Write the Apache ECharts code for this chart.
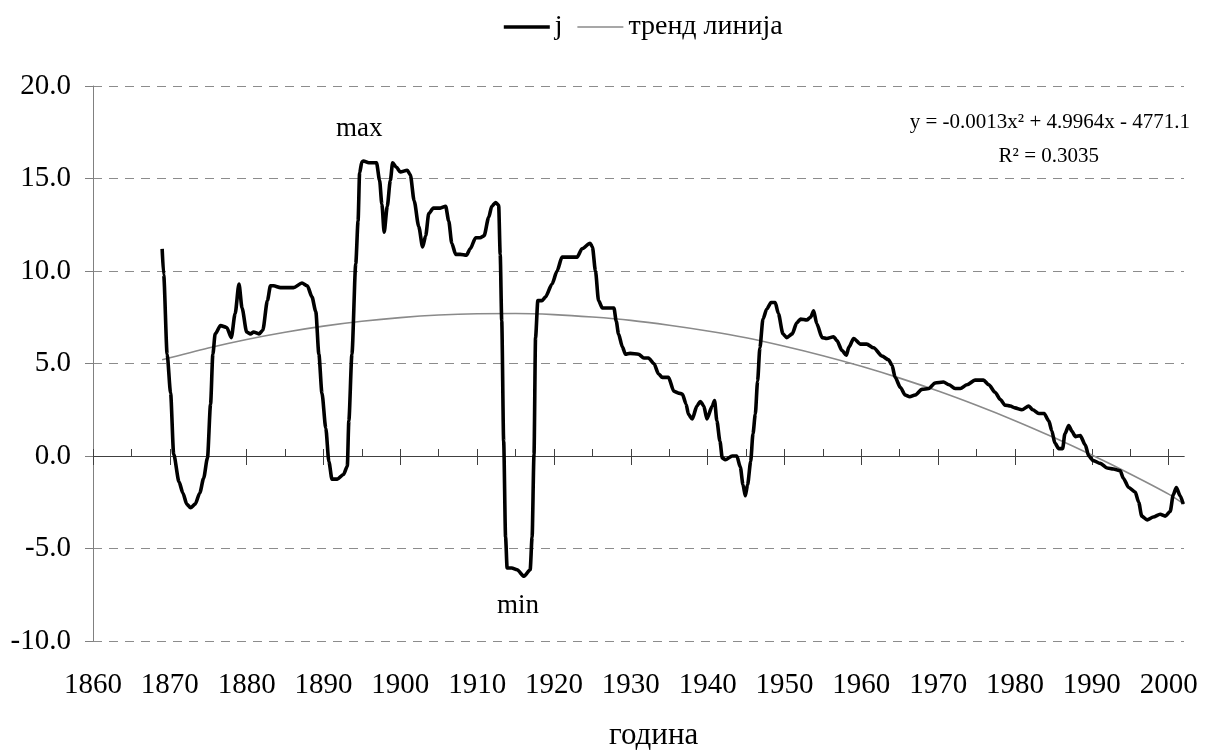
<!DOCTYPE html>
<html>
<head>
<meta charset="utf-8">
<script src="https://cdn.jsdelivr.net/npm/echarts@6/dist/echarts.min.js"></script>
<style>
html,body{margin:0;padding:0;background:#fff;}
#chart{width:1206px;height:751px;}
</style>
</head>
<body>
<div id="chart"></div>
<script>
// ---- data ----
const xTickLabels = [1860, 1870, 1880, 1890, 1900, 1910, 1920, 1930, 1940, 1950, 1960, 1970, 1980, 1990, 2000];
const yTickLabels = [-10, -5, 0, 5, 10, 15, 20];

const jYears = [
  1869.0, 1869.2, 1869.65, 1870.1, 1870.5, 1871.2, 1871.7, 1872.2, 1872.7, 1873.3, 1873.9, 1874.4, 1874.9,
  1875.3, 1875.6, 1875.9, 1876.6, 1877.4, 1878.0, 1878.5, 1879.0, 1879.4, 1880.0, 1880.5, 1880.9, 1881.6,
  1882.1, 1882.7, 1883.1, 1883.5, 1884.4, 1886.1, 1887.2, 1887.9, 1888.5, 1889.0, 1889.4, 1889.8, 1890.3,
  1890.7, 1891.1, 1891.8, 1892.6, 1893.1, 1893.3, 1893.7, 1894.2, 1894.5, 1894.7, 1895.0, 1895.2, 1895.9,
  1896.9, 1897.3, 1897.6, 1897.9, 1898.3, 1898.7, 1899.0, 1899.5, 1900.0, 1900.9, 1901.3, 1901.8, 1902.4,
  1902.9, 1903.3, 1903.7, 1904.3, 1905.2, 1905.9, 1906.3, 1906.7, 1907.2, 1907.8, 1908.6, 1909.1, 1909.8,
  1910.4, 1910.9, 1911.5, 1911.9, 1912.4, 1912.8, 1913.0, 1913.2, 1913.45, 1913.7, 1913.9, 1914.5, 1915.2,
  1916.1, 1916.9, 1917.15, 1917.4, 1917.6, 1917.9, 1918.45, 1918.9, 1919.75, 1920.4, 1921.05, 1921.7,
  1923.0, 1923.65, 1924.7, 1925.0, 1925.4, 1925.8, 1926.3, 1927.3, 1927.8, 1928.1, 1928.4, 1928.9, 1929.3,
  1929.9, 1931.0, 1931.7, 1932.3, 1933.0, 1933.6, 1934.1, 1934.9, 1935.6, 1936.2, 1936.7, 1937.2, 1937.5,
  1938.0, 1938.6, 1939.05, 1939.5, 1939.9, 1940.6, 1940.9, 1941.2, 1941.6, 1941.9, 1942.3, 1943.2, 1943.8,
  1944.25, 1944.6, 1944.9, 1945.2, 1945.6, 1945.9, 1946.2, 1946.5, 1946.8, 1947.2, 1947.7, 1948.25, 1948.8,
  1949.2, 1949.8, 1950.3, 1951.0, 1951.6, 1952.1, 1952.9, 1953.4, 1953.8, 1954.2, 1954.9, 1955.5, 1956.4,
  1956.8, 1957.5, 1958.05, 1958.4, 1959.0, 1959.9, 1960.7, 1961.6, 1962.7, 1963.55, 1964.0, 1964.4, 1965.1,
  1965.7, 1966.3, 1967.0, 1967.9, 1968.8, 1969.6, 1970.7, 1971.4, 1972.2, 1972.9, 1973.75, 1974.8, 1975.9,
  1976.6, 1977.4, 1978.1, 1978.7, 1979.4, 1980.0, 1980.9, 1981.8, 1982.3, 1983.1, 1983.8, 1984.4, 1984.8,
  1985.2, 1985.7, 1986.2, 1986.5, 1987.0, 1987.4, 1987.85, 1988.5, 1989.15, 1989.6, 1990.2, 1991.1, 1992.0,
  1992.8, 1993.7, 1994.1, 1994.8, 1995.65, 1996.1, 1996.5, 1997.2, 1998.0, 1998.9, 1999.55, 2000.2, 2000.6,
  2001.0, 2001.5, 2001.9
];
const jValues = [
  11.2, 9.8, 5.5, 3.4, 0.1, -1.4, -2.0, -2.6, -2.8, -2.6, -2.0, -1.2, -0.1,
  2.8, 5.5, 6.6, 7.05, 6.95, 6.4, 7.7, 9.3, 8.0, 6.7, 6.6, 6.7, 6.6,
  6.8, 8.4, 9.2, 9.2, 9.1, 9.1, 9.35, 9.2, 8.6, 7.8, 5.5, 3.4, 1.5,
  -0.3, -1.25, -1.25, -1.0, -0.55, 1.9, 5.5, 10.4, 12.7, 15.3, 15.9, 15.95, 15.85,
  15.85, 14.9, 13.6, 12.1, 13.5, 14.9, 15.85, 15.6, 15.35, 15.45, 15.2, 13.8, 12.4,
  11.3, 11.9, 13.1, 13.4, 13.4, 13.5, 12.7, 11.5, 10.9, 10.9, 10.85, 11.2, 11.8,
  11.8, 11.9, 12.9, 13.5, 13.7, 13.55, 10.9, 7.3, 0.8, -4.4, -6.05, -6.05, -6.15,
  -6.5, -6.15, -4.4, 0.1, 6.4, 8.4, 8.4, 8.6, 9.3, 10.0, 10.75, 10.75,
  10.75, 11.2, 11.5, 11.3, 10.0, 8.4, 8.0, 8.0, 8.0, 7.3, 6.6, 5.9, 5.5,
  5.55, 5.5, 5.3, 5.3, 5.0, 4.45, 4.25, 4.25, 3.5, 3.4, 3.35, 2.8, 2.25,
  2.0, 2.7, 2.95, 2.7, 2.0, 2.7, 3.0, 1.9, 0.8, -0.1, -0.2, 0.0, 0.0,
  -0.6, -1.55, -2.15, -1.55, -0.3, 1.2, 2.25, 4.05, 5.85, 7.4, 7.95, 8.3, 8.3,
  7.7, 6.6, 6.4, 6.6, 7.2, 7.4, 7.35, 7.5, 7.85, 7.15, 6.4, 6.35, 6.45,
  6.25, 5.7, 5.45, 5.9, 6.35, 6.05, 6.05, 5.85, 5.4, 5.2, 4.9, 4.25, 3.7,
  3.3, 3.2, 3.3, 3.6, 3.65, 3.95, 4.0, 3.85, 3.65, 3.65, 3.85, 4.1, 4.1,
  3.85, 3.45, 3.05, 2.75, 2.7, 2.6, 2.5, 2.7, 2.5, 2.3, 2.3, 1.9, 1.35,
  0.7, 0.4, 0.4, 1.2, 1.65, 1.35, 1.05, 1.1, 0.6, 0.0, -0.25, -0.4, -0.65,
  -0.7, -0.8, -1.2, -1.7, -1.95, -2.5, -3.25, -3.45, -3.3, -3.15, -3.25, -3.0, -2.1,
  -1.7, -2.15, -2.6
];

const trendYears = [1869, 1875, 1880, 1885, 1890, 1895, 1900, 1905, 1910, 1915, 1920, 1925, 1930, 1935,
  1940, 1945, 1950, 1955, 1960, 1965, 1970, 1975, 1980, 1985, 1990, 1995, 2000, 2002];
const trendValues = [5.2, 5.84, 6.3, 6.69, 7.02, 7.28, 7.48, 7.62, 7.69, 7.7, 7.64, 7.51, 7.33, 7.07,
  6.76, 6.39, 5.93, 5.42, 4.85, 4.21, 3.51, 2.74, 1.91, 1.01, 0.05, -0.97, -2.06, -2.6];

const seriesNames = ['j', 'тренд линија'];
const equationText = 'y = -0.0013x² + 4.9964x - 4771.1';
const r2Text = 'R² = 0.3035';
const xAxisTitle = 'година';

// ---- chart ----
const FONT = '"Liberation Serif", "Times New Roman", serif';
const J_WIDTH = 3.6, TREND_WIDTH = 1.6;
const xTicks5 = [];
for (let i = 0; i < xTickLabels.length; i++) {
  xTicks5.push(xTickLabels[i]);
  if (i < xTickLabels.length - 1) xTicks5.push(xTickLabels[i] + 5);
}
const jData = jYears.map((y, i) => [y, jValues[i]]);
const trendData = trendYears.map((y, i) => [y, trendValues[i]]);

const chart = echarts.init(document.getElementById('chart'), null, {renderer: 'canvas'});
const xMin = xTickLabels[0], xMax = 2002;

chart.setOption({
  animation: false,
  backgroundColor: '#ffffff',
  textStyle: {fontFamily: FONT, color: '#000'},
  legend: {
    data: [
      {name: seriesNames[0], lineStyle: {width: J_WIDTH, color: '#000'}},
      {name: seriesNames[1], lineStyle: {width: TREND_WIDTH, color: '#8a8a8a'}}
    ],
    left: 497,
    top: 8,
    itemWidth: 46,
    itemHeight: 2,
    itemGap: 14,
    itemStyle: {opacity: 0},
    textStyle: {fontFamily: FONT, fontSize: 28, color: '#000'}
  },
  grid: {left: 93, right: 22, top: 86, bottom: 110},
  xAxis: [
    {
      type: 'value', min: xMin, max: xMax, position: 'bottom',
      axisLine: {show: false, onZero: false},
      axisTick: {show: false},
      splitLine: {show: false},
      axisLabel: {
        customValues: xTickLabels,
        fontFamily: FONT, fontSize: 29, color: '#000', margin: 30,
        formatter: v => String(v)
      }
    },
    {
      type: 'value', min: xMin, max: xMax, position: 'bottom',
      axisLine: {show: true, onZero: true, onZeroAxisIndex: 0, lineStyle: {color: '#404040', width: 1}},
      axisTick: {show: true, inside: false, length: 9, customValues: xTickLabels, lineStyle: {color: '#404040'}},
      axisLabel: {show: false},
      splitLine: {show: false}
    },
    {
      type: 'value', min: xMin, max: xMax, position: 'bottom',
      axisLine: {show: true, onZero: true, onZeroAxisIndex: 1, lineStyle: {color: '#404040', width: 1}},
      axisTick: {show: true, inside: true, length: 7, customValues: xTicks5, lineStyle: {color: '#404040'}},
      axisLabel: {show: false},
      splitLine: {show: false}
    }
  ],
  yAxis: [
    {
      type: 'value', min: yTickLabels[0], max: yTickLabels[yTickLabels.length - 1], interval: 5,
      axisLine: {show: true, onZero: false, lineStyle: {color: '#808080', width: 1}},
      axisTick: {show: true, inside: false, length: 8, lineStyle: {color: '#808080'}},
      axisLabel: {
        fontFamily: FONT, fontSize: 29, color: '#000', margin: 22,
        formatter: v => v.toFixed(1)
      },
      splitLine: {show: true, lineStyle: {color: '#8c8c8c', width: 1, type: [9, 7]}}
    },
    {
      type: 'value', min: yTickLabels[0], max: yTickLabels[yTickLabels.length - 1], interval: 5,
      show: false
    }
  ],
  series: [
    {
      name: seriesNames[0], type: 'line', xAxisIndex: 0, yAxisIndex: 0,
      data: jData, symbol: 'none', smooth: 0.25, smoothMonotone: 'x',
      lineStyle: {color: '#000', width: J_WIDTH}, itemStyle: {color: '#000'}, z: 3
    },
    {
      name: seriesNames[1], type: 'line', xAxisIndex: 0, yAxisIndex: 0,
      data: trendData, symbol: 'none', smooth: 0.3,
      lineStyle: {color: '#8a8a8a', width: TREND_WIDTH}, itemStyle: {color: '#8a8a8a'}, z: 2
    }
  ],
  graphic: [
    {type: 'text', right: 1206 - 1190, top: 112, style: {text: equationText, fontFamily: FONT, fontSize: 21, fill: '#000'}},
    {type: 'text', right: 1206 - 1099, top: 146, style: {text: r2Text, fontFamily: FONT, fontSize: 21, fill: '#000'}},
    {type: 'text', left: 336, top: 115, style: {text: 'max', fontFamily: FONT, fontSize: 27, fill: '#000'}},
    {type: 'text', left: 497, top: 592, style: {text: 'min', fontFamily: FONT, fontSize: 27, fill: '#000'}},
    {type: 'text', left: 609, top: 720, style: {text: xAxisTitle, fontFamily: FONT, fontSize: 31, fill: '#000'}}
  ]
});
</script>
</body>
</html>
